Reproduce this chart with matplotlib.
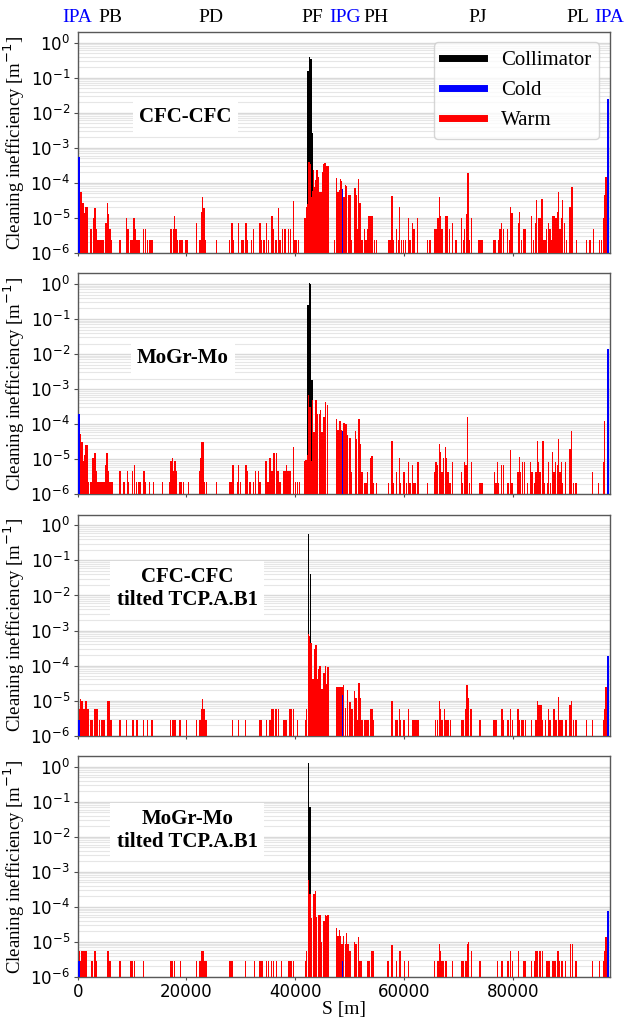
import numpy as np
import matplotlib
matplotlib.use("Agg")
import matplotlib.pyplot as plt
from matplotlib.lines import Line2D

SERIF = "Liberation Serif"

# ---------------- data (S in km, values in units of 1e-6 m^-1) ----------------
panel_titles = ["CFC-CFC", "MoGr-Mo", "CFC-CFC\ntilted TCP.A.B1", "MoGr-Mo\ntilted TCP.A.B1"]

top_label_s_km = [0.0, 5.97, 24.55, 43.1, 49.1, 54.8, 73.5, 91.9, 97.75]
top_label_text = ["IPA", "PB", "PD", "PF", "IPG", "PH", "PJ", "PL", "IPA"]
top_label_color = ["blue", "black", "black", "black", "blue", "black", "black", "black", "blue"]

# Panel 1: CFC-CFC
coll1_s = [42.35, 42.6, 42.85, 43.1]
coll1_v = [1.5e5, 3.8e5, 3.3e5, 2.6e3]
cold1_s = [0.2, 48.65, 97.4]
cold1_v = [530, 65, 2.4e4]
warm1_s = [0.26, 0.44, 0.62, 0.81, 0.99, 1.17, 1.36, 1.54, 1.73, 2.34, 2.58, 2.95, 3.2, 3.44, 3.69,
           3.93, 4.18, 4.48, 4.73, 5.16, 5.34, 5.52, 5.71, 5.95, 6.2, 7.79, 9.01, 9.26, 9.75, 9.99,
           10.36, 10.61, 10.91, 11.16, 11.4, 12.08, 12.44, 12.87, 13.18, 13.48, 13.79, 17.04, 17.28,
           17.59, 17.83, 18.08, 18.32, 18.81, 19.18, 19.91, 20.22, 21.87, 22.49, 22.73, 22.98, 23.22,
           23.47, 25.55, 27.88, 28.37, 28.61, 29.59, 30.2, 30.45, 30.94, 31.18, 31.98, 32.29, 33.51,
           33.76, 34.25, 34.73, 35.1, 35.72, 35.96, 36.45, 36.94, 37.19, 37.68, 38.1, 38.78, 39.14,
           39.63, 39.94, 40.25, 40.55,
           41.75, 41.95, 42.15, 42.35, 42.55, 42.75, 42.95, 43.15, 43.35, 43.55, 43.8, 44.0, 44.25,
           44.5, 44.75, 45.0, 45.25, 45.5, 45.75, 46.0,
           47.2, 47.6, 47.84, 48.08, 48.33, 48.51, 48.94, 49.19, 49.43, 49.74, 50.04, 50.23, 50.96,
           51.15, 51.39, 51.64, 51.88, 52.13, 52.37, 52.68, 52.98, 53.23, 53.47, 53.72, 53.96, 54.21,
           54.58, 54.88, 57.09, 57.39, 57.76, 58.0, 58.62, 58.92, 59.17, 59.48, 59.84, 60.21, 60.82,
           61.07, 61.56, 61.8, 62.48, 64.25, 64.74, 65.6, 65.84, 66.21, 66.46, 66.7, 66.95, 67.62,
           67.87, 68.29, 68.91, 69.52, 70.56, 70.87, 71.11, 71.42, 71.72, 71.97, 72.4, 73.62, 73.93,
           74.3, 76.5, 76.81, 77.3, 77.6, 77.91, 78.21, 79.01, 79.32, 79.5, 79.81, 80.97, 81.15,
           81.58, 81.89, 82.2, 83.36, 83.73, 84.09, 84.34, 84.65, 84.95, 85.32, 85.56, 85.87, 86.18,
           86.48, 86.79, 87.03, 87.28, 87.52, 87.89, 88.14, 88.38, 88.63, 88.93, 89.12, 89.48, 89.85,
           90.46, 90.83, 91.69, 93.53, 94.14, 94.75, 95.85, 96.28, 96.59, 96.89, 97.08]
warm1_v = [31, 56, 56, 9.6, 27, 14, 14, 21, 21, 4.8, 4.8, 9.6, 19, 4.8, 2.4,
           2.4, 2.4, 2.4, 2.4, 7.2, 7.2, 26, 13, 4.8, 2.4, 2.4, 9.6, 4.8, 2.4, 2.4,
           9.6, 4.8, 2.4, 2.4, 2.4, 4.8, 4.8, 2.4, 2.4, 2.4, 2.4, 4.8, 4.8,
           4.8, 11, 4.8, 2.4, 2.4, 2.4, 2.4, 2.4, 7.2, 2.4, 15, 40, 19,
           2.4, 2.4, 2.4, 7.2, 2.4, 7.2, 2.4, 2.4, 7.2, 2.4, 2.4, 4.8, 7.2,
           2.4, 2.4, 7.2, 2.4, 11, 4.8, 2.4, 19, 2.4, 4.8, 4.8, 4.8, 4.8,
           30, 2.4, 2.4, 2.4,
           9.6, 9.6, 20, 25, 400, 350, 40, 60, 230, 77, 120, 230, 150,
           55, 55, 200, 350, 370, 300, 300,
           2.4, 140, 56, 63, 130, 110, 40, 86, 80, 45, 45, 2.4, 70,
           45, 4.8, 130, 27, 2.4, 2.4, 4.8, 2.4, 4.8, 11, 11, 11, 11,
           2.4, 2.4, 2.4, 2.4, 43, 2.4, 4.8, 2.4, 21, 2.4, 2.4, 2.4, 9.6,
           2.4, 7.2, 4.8, 9.6, 2.4, 2.4, 4.8, 4.8, 9.6, 40, 11, 4.8, 11,
           11, 4.8, 7.2, 2.4, 9.6, 2.4, 4.8, 13, 186, 2.4, 9.6, 2.4, 2.4,
           2.4, 2.4, 2.4, 2.4, 4.8, 7.2, 4.8, 4.8, 2.4, 21, 14, 7.2, 15,
           2.4, 4.8, 4.8, 11, 2.4, 7.2, 33, 9.6, 9.6, 35, 2.4, 2.4, 4.8,
           7.2, 4.8, 2.4, 11, 11, 10, 15, 56, 4.8, 9.6, 32, 7.2, 2.4,
           21, 75, 2.4, 2.4, 2.4, 4.8, 2.4, 2.4, 9.6, 45, 150]

# Panel 2: MoGr-Mo
coll2_s = [42.33, 42.58, 42.82, 43.07]
coll2_v = [2.5e5, 1.1e6, 1.0e6, 1.8e3]
cold2_s = [0.2, 48.65, 97.4]
cold2_v = [190, 63, 1.4e4]
warm2_s = [0.32, 0.5, 0.75, 0.93, 1.11, 1.3, 1.48, 1.67, 1.85, 2.03, 2.34, 2.58, 2.83, 3.01, 3.2,
           3.38, 3.63, 3.87, 4.12, 4.36, 4.6, 4.85, 5.09, 5.34, 5.52, 5.71, 5.95, 6.32, 7.79, 8.52,
           9.14, 9.38, 10.12, 10.48, 10.85, 11.16, 11.46, 12.2, 12.44, 13.18, 13.91, 15.63, 16.98,
           17.16, 17.4, 17.65, 17.89, 18.14, 18.81, 19.12, 19.42, 20.4, 22.36, 22.61, 22.85, 23.1,
           23.34, 23.71, 25.55, 27.88, 28.12, 28.37, 28.55, 29.35, 29.59, 29.96, 30.94, 31.18, 31.67,
           32.28, 32.65, 33.26, 33.51, 34.61, 34.98, 35.35, 35.72, 36.08, 36.57, 36.82, 37.18, 37.92,
           38.16, 38.41, 38.65, 38.9, 39.14, 39.63, 40.0, 40.37, 40.73,
           41.7, 41.95, 42.2, 42.45, 42.7, 43.0, 43.18, 43.43, 43.8, 44.04, 44.41, 44.66, 44.9,
           45.27, 45.58, 45.88,
           47.6, 47.84, 48.21, 48.45, 48.94, 49.31, 49.56, 50.05, 50.29, 51.03, 51.27, 51.7, 51.94,
           52.25, 52.74, 52.99, 53.23, 53.84, 54.09, 54.33, 54.94, 57.09, 57.76, 58.01, 58.56, 59.11,
           59.35, 59.97, 60.46, 60.82, 61.07, 61.56, 61.8, 62.05, 62.54, 64.25, 65.6, 65.85, 66.09,
           66.46, 66.7, 66.95, 67.19, 67.56, 67.8, 68.05, 68.42, 68.91, 70.5, 70.74, 71.11, 71.36,
           71.66, 71.97, 72.34, 73.93, 74.3, 76.56, 76.87, 77.11, 77.36, 77.85, 78.22, 79.07, 79.56,
           79.81, 80.91, 81.16, 81.4, 81.77, 82.14, 82.63, 83.24, 83.48, 83.97, 84.22, 84.46, 84.71,
           84.95, 85.5, 85.81, 86.3, 86.54, 86.91, 87.28, 87.52, 87.77, 88.14, 88.38, 88.63, 88.87,
           89.12, 89.61, 90.47, 90.77, 91.08, 91.57, 94.63, 95.67, 96.59, 96.84]
warm2_v = [52, 52, 30, 30, 9, 13, 26, 26, 4.5, 2.2, 2.2, 2.2, 11, 11, 15,
           4.5, 2.2, 2.2, 2.2, 2.2, 2.2, 2.2, 7, 15, 15, 4.5, 2.2, 2.2, 4.5, 2.2,
           4.5, 2.2, 4.5, 7, 2.2, 2.2, 2.2, 4.5, 2.2, 2.2, 2.2, 2.2, 2.2,
           9, 11, 4.5, 9, 4.5, 2.2, 2.2, 2.2, 2.2, 4.5, 11, 31, 31,
           2.2, 2.2, 2.2, 2.2, 2.2, 2.2, 7, 2.2, 7, 2.2, 7, 4.5, 2.2,
           2.2, 4.5, 4.5, 2.2, 9, 2.2, 11, 4.5, 15, 15, 4.5, 2.2, 4.5,
           4.5, 6.7, 4.5, 4.5, 4.5, 22, 2.2, 2.2, 2.2,
           9, 9.4, 13, 680, 310, 9, 490, 60, 500, 200, 200, 260, 60,
           155, 430, 350,
           140, 70, 120, 70, 110, 100, 50, 40, 4.3, 63, 38, 140, 27,
           4.3, 2.1, 2.1, 4.3, 11, 12, 2.1, 2.1, 2.1, 34, 2.1, 4.3, 11,
           2.1, 4.3, 2.1, 8.5, 2.1, 7, 2.1, 2.1, 8.5, 2.1, 4.3, 8.5, 7,
           27, 16, 4.3, 11, 22, 11, 4.3, 2.1, 8.5, 4.3, 2.1, 8.5, 7,
           155, 2.1, 8.5, 2.1, 2.1, 4.3, 2.1, 8.5, 2.1, 7, 7, 2.1, 18,
           2.1, 4.3, 11.5, 4.3, 8.5, 8.5, 2.1, 8.5, 4.3, 2.1, 4.3, 33, 8.5,
           4.3, 34, 2.1, 2.1, 8.5, 2.1, 16, 4.3, 8.5, 7, 37, 4.3, 8.5,
           2.1, 8.5, 20, 63, 2.1, 2.1, 4.3, 2.1, 8.5, 120]

# Panel 3: CFC-CFC tilted TCP.A.B1
coll3_s = [42.45, 42.75, 43.0]
coll3_v = [5.5e5, 4.0e4, 95]
cold3_s = [0.2, 48.65, 97.4]
cold3_v = [2.8, 14, 190]
warm3_s = [0.32, 0.56, 0.81, 1.05, 1.3, 1.54, 1.91, 2.4, 2.65, 3.07, 3.32, 3.56, 4.05, 4.36, 4.67,
           4.97, 5.52, 5.77, 6.08, 7.79, 9.01, 10.06, 10.3, 10.79, 10.97, 12.08, 12.81, 13.67, 17.1,
           17.4, 17.71, 18.02, 18.81, 20.04, 21.87, 22.49, 22.79, 22.98, 23.22, 23.47, 23.71, 28.49,
           29.59, 30.81, 33.51, 33.75, 34.73, 35.35, 35.71, 36.02, 36.45, 36.94, 37.92, 38.29, 39.02,
           39.33, 39.63, 40.37, 41.84, 42.08,
           42.39, 42.64, 42.88, 43.06, 43.31, 43.55, 43.8, 44.04, 44.29, 44.53, 44.78, 45.02, 45.27,
           45.51, 45.76, 46.0,
           47.6, 47.84, 48.09, 48.33, 48.58, 48.88, 49.25, 49.62, 49.92, 50.17, 50.41, 50.9, 51.15,
           51.39, 51.7, 52.0, 52.25, 52.74, 52.99, 53.23, 53.48, 53.84, 54.09, 54.33, 57.76, 58.5,
           58.8, 59.11, 59.35, 59.97, 60.82, 61.56, 61.8, 62.17, 62.54, 65.72, 66.09, 66.46, 66.7,
           66.95, 67.44, 67.68, 68.05, 68.54, 70.62, 70.87, 71.23, 71.54, 71.85, 72.28, 73.93, 76.5,
           76.75, 76.99, 77.97, 78.22, 79.07, 79.56, 79.87, 80.91, 81.16, 81.65, 81.89, 82.26, 83.36,
           84.22, 84.46, 84.71, 84.95, 85.2, 85.44, 85.93, 86.48, 86.79, 87.4, 87.65, 87.89, 88.38,
           88.63, 89.0, 89.73, 90.47, 90.77, 91.08, 91.57, 93.53, 94.63, 96.59, 96.84, 97.08]
warm3_v = [5.6, 11, 9.6, 5.6, 5.6, 9.6, 5.6, 2.8, 2.8, 5.6, 5.6, 5.6, 2.8, 2.8, 2.8,
           2.8, 9.6, 9.6, 2.8, 2.8, 2.8, 2.8, 2.8, 2.8, 2.8, 2.8, 2.8, 2.8, 2.8,
           2.8, 2.8, 2.8, 2.8, 2.8, 2.8, 2.8, 5.6, 11, 5.6, 2.8, 2.8, 2.8,
           2.8, 2.8, 2.8, 2.8, 2.8, 2.8, 5.6, 5.6, 5.6, 5.6, 2.8, 2.8, 5.6,
           5.6, 5.6, 2.8, 2.8, 5.6,
           770, 700, 450, 40, 40, 290, 390, 40, 78, 95, 21, 21, 62,
           95, 30, 88,
           25, 25, 25, 25, 25, 27, 6, 20, 9, 9, 5.6, 19, 12,
           2.8, 32, 12, 2.8, 2.8, 2.8, 2.8, 2.8, 5.6, 5.6, 2.8, 10, 2.8,
           2.8, 5.6, 2.8, 2.8, 5.6, 2.8, 2.8, 2.8, 2.8, 2.8, 2.8, 10, 5.6,
           2.8, 5.6, 2.8, 2.8, 2.8, 2.8, 2.8, 5.6, 28, 12, 5.6, 2.8, 2.8,
           2.8, 2.8, 5.6, 2.8, 2.8, 5.6, 2.8, 5.6, 2.8, 2.8, 2.8, 2.8, 2.8,
           2.8, 10, 7.5, 7.5, 7.5, 2.8, 2.8, 5.6, 2.8, 5.6, 5.6, 2.8, 13,
           2.8, 2.8, 2.8, 7.5, 10, 2.8, 2.8, 2.8, 2.8, 2.8, 5.6, 25]

# Panel 4: MoGr-Mo tilted TCP.A.B1
coll4_s = [42.45, 42.7, 42.95]
coll4_v = [1.3e6, 7.0e4, 44]
cold4_s = [0.2, 48.65, 97.4]
cold4_v = [2.8, 2.8, 75]
warm4_s = [0.32, 0.56, 0.81, 1.05, 1.3, 1.54, 2.52, 2.77, 3.14, 3.38, 5.46, 5.71, 5.95, 7.79, 9.75,
           9.99, 10.48, 12.08, 17.16, 17.34, 17.83, 18.93, 21.87, 22.49, 22.85, 23.1, 23.34, 23.59,
           27.99, 28.37, 30.81, 32.53, 33.51, 33.88, 34.73, 35.1, 35.59, 35.96, 36.57, 37.43, 38.78,
           39.02, 39.33, 39.63, 41.84, 42.08,
           42.39, 42.7, 43.0, 43.43, 43.68, 43.92, 44.29, 44.53, 44.78, 45.27, 45.51, 45.76, 46.0,
           47.6, 47.84, 48.09, 48.33, 48.58, 48.88, 49.19, 49.43, 49.68, 49.92, 50.17, 50.9, 51.15,
           51.64, 51.88, 52.13, 53.35, 53.6, 54.09, 54.33, 57.03, 57.76, 58.62, 59.11, 59.35, 60.09,
           60.82, 65.6, 66.21, 66.46, 66.7, 66.95, 67.19, 67.68, 68.91, 70.62, 70.87, 71.36, 71.6,
           71.85, 72.34, 73.93, 77.11, 77.97, 79.07, 79.56, 79.87, 81.03, 82.01, 82.32, 83.36, 83.97,
           84.22, 84.46, 84.95, 85.44, 86.18, 86.42, 86.67, 87.28, 87.52, 87.77, 88.26, 88.5, 88.99,
           89.61, 90.59, 90.89, 91.57, 94.63, 95.85, 96.59, 96.84, 97.08]
warm4_v = [5.6, 2.8, 5.6, 5.6, 5.6, 5.6, 2.8, 2.8, 5.6, 2.8, 5.6, 5.6, 2.8, 2.8, 2.8,
           2.8, 2.8, 2.8, 2.8, 2.8, 2.8, 2.8, 2.8, 2.8, 5.6, 5.6, 2.8, 2.8,
           2.8, 2.8, 2.8, 2.8, 2.8, 2.8, 2.8, 2.8, 2.8, 2.8, 2.8, 2.8, 2.8,
           2.8, 2.8, 2.8, 2.8, 5.6,
           600, 240, 49, 230, 280, 50, 58, 60, 10, 40, 60, 55, 57,
           25, 15, 22, 15, 9, 15, 9, 18, 9, 5.6, 5.6, 10, 9,
           14, 2.8, 2.8, 2.8, 2.8, 5.6, 5.6, 2.8, 8, 2.8, 5.6, 5.6, 2.8,
           2.8, 2.8, 2.8, 8.5, 5.6, 2.8, 2.8, 2.8, 2.8, 2.8, 2.8, 2.8, 8.5,
           10, 5.6, 2.8, 2.8, 2.8, 2.8, 5.6, 2.8, 5.6, 2.8, 2.8, 2.8, 2.8,
           5.6, 5.6, 5.6, 5.6, 2.8, 2.8, 2.8, 2.8, 2.8, 2.8, 5.6, 2.8, 2.8,
           2.8, 8.5, 8.5, 2.8, 2.8, 2.8, 2.8, 5.6, 14]

panels = [
    (coll1_s, coll1_v, cold1_s, cold1_v, warm1_s, warm1_v),
    (coll2_s, coll2_v, cold2_s, cold2_v, warm2_s, warm2_v),
    (coll3_s, coll3_v, cold3_s, cold3_v, warm3_s, warm3_v),
    (coll4_s, coll4_v, cold4_s, cold4_v, warm4_s, warm4_v),
]

KM = 1000.0
UNIT = 1e-6
BAR_W = 290.0  # metres
S_MAX = 97750.0

fig = plt.figure(figsize=(6.24, 10.17), dpi=100)
axes = fig.subplots(4, 1, sharex=True)
fig.subplots_adjust(left=0.1244, right=0.977, top=0.9685, bottom=0.0393, hspace=0.093)

title_pos = [(0.202, 0.615), (0.198, 0.616), (0.206, 0.665), (0.206, 0.662)]

for i, ax in enumerate(axes):
    cs, cv, ds, dv, ws, wv = panels[i]
    ax.set_yscale("log")
    ax.bar(np.array(cs) * KM, np.array(cv) * UNIT, width=BAR_W, color="black", linewidth=0, zorder=2)
    ax.bar(np.array(ws) * KM, np.array(wv) * UNIT, width=BAR_W, color="red", linewidth=0, zorder=3)
    ax.bar(np.array(ds) * KM, np.array(dv) * UNIT, width=BAR_W, color="blue", linewidth=0, zorder=4)
    ax.set_ylim(1e-6, 2)
    ax.set_xlim(0, S_MAX)
    ax.set_axisbelow(True)
    ax.yaxis.grid(True, which="major", color="0.85", linewidth=1.0)
    ax.yaxis.grid(True, which="minor", color="0.9", linewidth=0.8)
    ax.set_yticks([1e-6, 1e-5, 1e-4, 1e-3, 1e-2, 1e-1, 1e0])
    ax.tick_params(axis="y", which="major", labelsize=12, length=3.0, pad=2.5, color="0.3")
    ax.tick_params(axis="x", which="major", labelsize=12, length=2.0, pad=2.0, color="0.3")
    ax.tick_params(axis="y", which="minor", length=0)
    for sp in ax.spines.values():
        sp.set_color("0.35")
        sp.set_linewidth(1.0)
    ax.set_ylabel("Cleaning inefficiency [m$^{-1}$]", fontsize=13.5, family=SERIF, labelpad=2)
    tx, ty = title_pos[i]
    ax.text(tx, ty, panel_titles[i], transform=ax.transAxes, ha="center", va="center",
            multialignment="center", fontsize=15, family=SERIF, fontweight="bold", zorder=6,
            bbox=dict(boxstyle="square,pad=0.3", facecolor="white", edgecolor="none"))

axes[-1].set_xticks([0, 20000, 40000, 60000, 80000])
axes[-1].set_xlabel("S [m]", fontsize=14, family=SERIF, labelpad=0)

# top labels
sec = axes[0].secondary_xaxis("top")
sec.set_xticks(np.array(top_label_s_km) * KM, top_label_text)
sec.tick_params(length=0, pad=4, labelsize=14)
for lbl, c in zip(sec.get_xticklabels(), top_label_color):
    lbl.set_color(c)
    lbl.set_family(SERIF)
sec.spines["top"].set_visible(False)

handles = [Line2D([], [], color="black", lw=5),
           Line2D([], [], color="blue", lw=5),
           Line2D([], [], color="red", lw=5)]
leg = axes[0].legend(handles, ["Collimator", "Cold", "Warm"], loc="upper right",
                     prop={"family": SERIF, "size": 15})
leg.set_zorder(10)

fig.savefig("out.png", dpi=100)
